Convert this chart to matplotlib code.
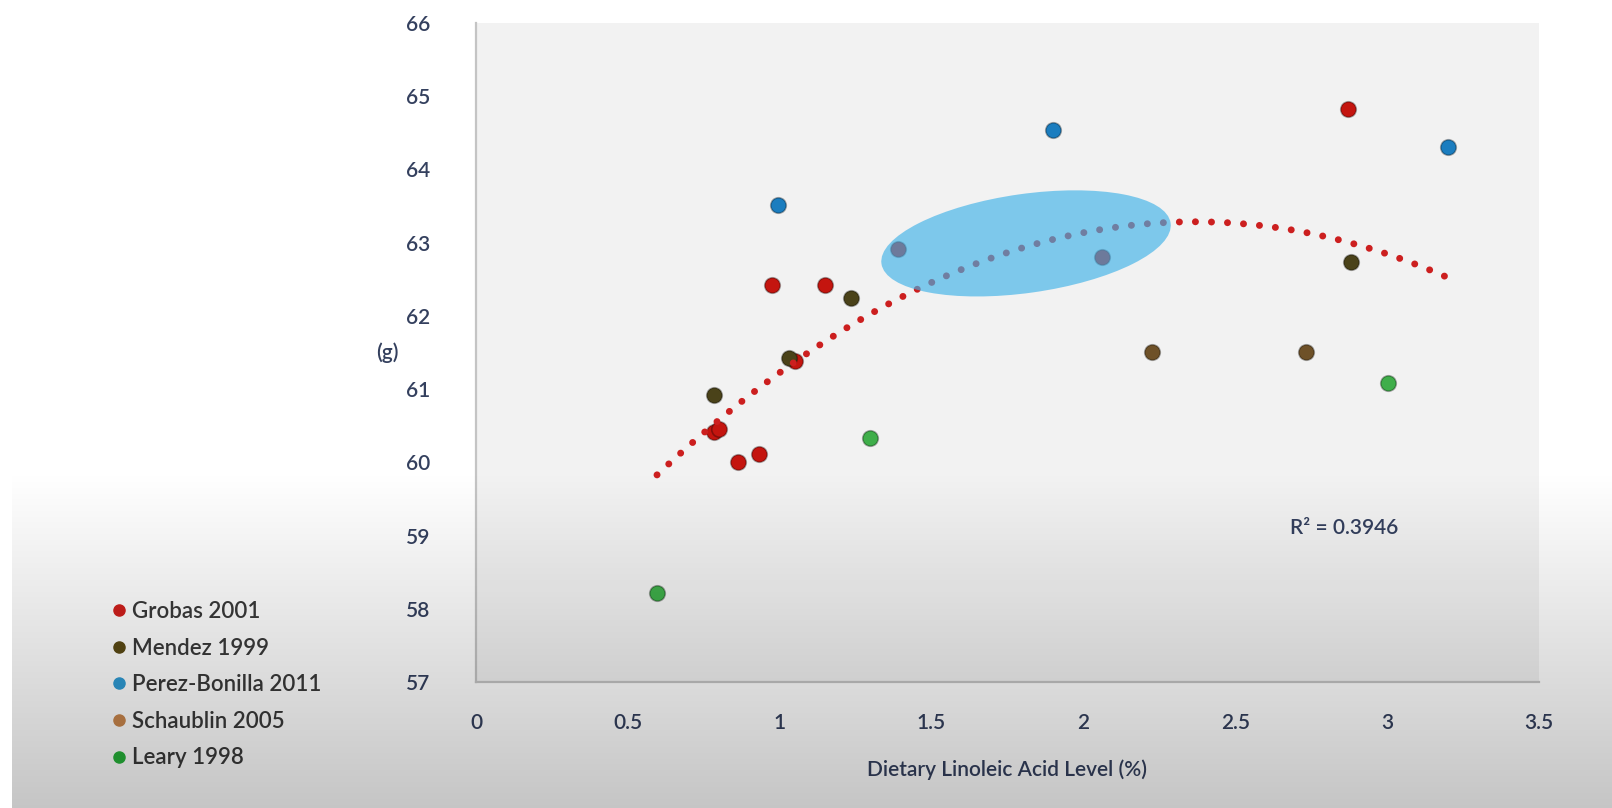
import numpy as np
import matplotlib
matplotlib.use('Agg')
import matplotlib.pyplot as plt
from matplotlib.lines import Line2D
from matplotlib.patches import Ellipse
from matplotlib.transforms import ScaledTranslation

plt.rcParams['font.family'] = ['Lato', 'DejaVu Sans']

# data
studies = ['Grobas 2001', 'Mendez 1999', 'Perez-Bonilla 2011', 'Schaublin 2005', 'Leary 1998']
legend_colors = ['#d0201c', '#5b4a14', '#2f9bd4', '#c9864c', '#27b23a']
point_colors = ['#c4150f', '#4a4219', '#1b7dbf', '#6e5128', '#3fae4a']

grobas_x = [0.785, 0.80, 0.863, 0.931, 0.975, 1.148, 1.05, 1.388, 2.062, 2.87]
grobas_y = [60.41, 60.46, 60.00, 60.12, 62.42, 62.42, 61.38, 62.92, 62.81, 64.83]
mendez_x = [0.782, 1.032, 1.236, 2.88]
mendez_y = [60.92, 61.42, 62.24, 62.73]
perez_x = [0.995, 1.90, 3.20]
perez_y = [63.51, 64.54, 64.31]
schaublin_x = [2.227, 2.732]
schaublin_y = [61.51, 61.51]
leary_x = [0.596, 1.297, 3.003]
leary_y = [58.21, 60.33, 61.08]

xs = [grobas_x, mendez_x, perez_x, schaublin_x, leary_x]
ys = [grobas_y, mendez_y, perez_y, schaublin_y, leary_y]

x_ticks = [0, 0.5, 1, 1.5, 2, 2.5, 3, 3.5]
x_labels = ['0', '0.5', '1', '1.5', '2', '2.5', '3', '3.5']
y_ticks = list(range(57, 67))
r2_text = 'R² = 0.3946'

text_col = '#34405e'

fig = plt.figure(figsize=(16.12, 8.08), dpi=100, facecolor='white')
ax = fig.add_axes([476 / 1612, 126 / 808, 1063 / 1612, 659 / 808])
ax.set_facecolor('#f2f2f2')

for x, y, c in zip(xs, ys, point_colors):
    ax.scatter(x, y, s=125, color=c, edgecolors='#00000050', linewidths=1.2, zorder=3)

# quadratic trend line over all points
all_x = np.concatenate([np.array(v) for v in xs])
all_y = np.concatenate([np.array(v) for v in ys])
coef = np.polyfit(all_x, all_y, 2)
tx = np.linspace(all_x.min(), all_x.max(), 200)
ax.plot(tx, np.polyval(coef, tx), color='#cc1f1f', lw=5, linestyle=(0, (0.01, 2.3)),
        dash_capstyle='round', zorder=3.5)

# highlight ellipse
ell = Ellipse((0, 0), 2.92, 0.99, angle=8,
              transform=fig.dpi_scale_trans + ScaledTranslation(1.811, 62.99, ax.transData),
              facecolor='#3fb2e8', alpha=0.65, edgecolor='none', zorder=4)
ax.add_patch(ell)

ax.text(2.68, 59.11, r2_text, va='center', ha='left', fontsize=15, color=text_col,
        fontweight='semibold')

ax.set_xlim(0, 3.5)
ax.set_ylim(57, 66)
ax.set_xticks(x_ticks)
ax.set_xticklabels(x_labels)
ax.set_yticks(y_ticks)
ax.tick_params(length=0, labelsize=15, labelcolor=text_col)
ax.tick_params(axis='x', pad=22)
ax.tick_params(axis='y', pad=33)
for lab in ax.get_xticklabels() + ax.get_yticklabels():
    lab.set_fontweight('semibold')
for s in ['top', 'right']:
    ax.spines[s].set_visible(False)
for s in ['left', 'bottom']:
    ax.spines[s].set_color('#c4c4c4')
    ax.spines[s].set_linewidth(1.6)

ax.set_xlabel('Dietary Linoleic Acid Level (%)', fontsize=15, color=text_col,
              fontweight='semibold')
ax.xaxis.set_label_coords(0.4995, -0.1175)
ax.set_ylabel('(g)', fontsize=15, color=text_col, rotation=0, va='center', ha='center',
              fontweight='semibold')
ax.yaxis.set_label_coords(-0.083, 0.499)

handles = [Line2D([], [], marker='o', ls='', color=c, ms=8) for c in legend_colors]
leg = fig.legend(handles, studies, loc='upper left', bbox_to_anchor=(0.068, 0.256),
                 frameon=False, fontsize=16, labelcolor='#3a3a3a', labelspacing=0.7,
                 handletextpad=0.2, handlelength=0.8, borderpad=0, borderaxespad=0)
for t in leg.get_texts():
    t.set_fontweight('semibold')

# grey fade over the lower part of the screenshot
h, w = 808, 1612
rows = np.clip((np.arange(h) - 470) / (h - 470), 0, 1) * 0.23
arr = np.zeros((h, w, 4))
arr[:, :, 3] = rows[:, None]
arr[:, :12, 3] = 0
ov = fig.add_axes([0, 0, 1, 1], zorder=10)
ov.imshow(arr, aspect='auto', extent=[0, 1, 0, 1])
ov.set_xlim(0, 1)
ov.set_ylim(0, 1)
ov.axis('off')

fig.savefig('out.png', dpi=100, facecolor='white')
